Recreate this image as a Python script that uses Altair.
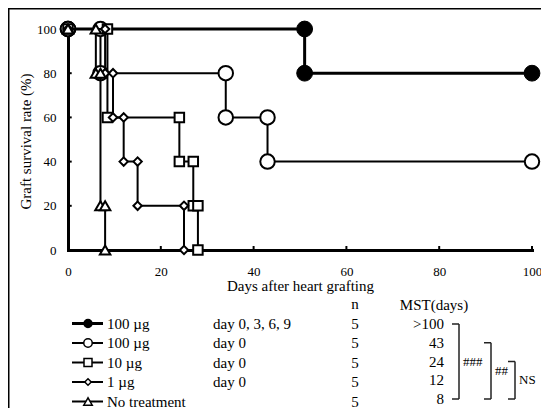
import altair as alt
import pandas as pd

# ---------------- data ----------------
series_names = ["100 µg day 0, 3, 6, 9", "100 µg day 0", "10 µg day 0", "1 µg day 0", "No treatment"]
legend_doses = ["100 µg", "100 µg", "10 µg", "1 µg", "No treatment"]
legend_schedule = ["day 0, 3, 6, 9", "day 0", "day 0", "day 0", ""]
n_animals = ["5", "5", "5", "5", "5"]
mst_labels = [">100", "43", "24", "12", "8"]

days_s1 = [0, 51, 51, 100]
surv_s1 = [100, 100, 80, 80]
days_s2 = [0, 7, 7, 34, 34, 43, 43, 100]
surv_s2 = [100, 100, 80, 80, 60, 60, 40, 40]
days_s3 = [0, 8.5, 8.5, 24, 24, 27, 27, 28, 28]
surv_s3 = [100, 100, 60, 60, 40, 40, 20, 20, 0]
days_s4 = [0, 8, 8, 9.7, 9.7, 12, 12, 15, 15, 25, 25]
surv_s4 = [100, 100, 80, 80, 60, 60, 40, 40, 20, 20, 0]
days_s5 = [0, 6, 6, 7, 7, 8, 8]
surv_s5 = [100, 100, 80, 80, 20, 20, 0]

series_days = [days_s1, days_s2, days_s3, days_s4, days_s5]
series_surv = [surv_s1, surv_s2, surv_s3, surv_s4, surv_s5]

comp_top = [0, 1, 2]
comp_bottom = [4, 4, 4]
comp_label = ["###", "##", "NS"]

x_tick_values = [0, 20, 40, 60, 80, 100]
y_tick_values = [0, 20, 40, 60, 80, 100]
x_minor = [20, 40, 60, 80, 100]
y_minor = [20, 40, 60, 80]

# ---------------- styles / layout ----------------
shapes = ["circle", "circle", "square", "diamond", "triangle-up"]
fills = ["black", "white", "white", "white", "white"]
sizes_main = [250, 210, 90, 70, 110]
sizes_leg = [64, 72, 64, 42, 72]
marker_sw = [1, 2, 2, 2, 2]
line_w = [3, 2, 2, 2, 2]
bracket_x = [391, 423, 447]

W, H = 464, 221
FONT = "Liberation Serif"

x_scale = alt.Scale(domain=[0, 100], nice=False, zero=False)
y_scale = alt.Scale(domain=[0, 100], nice=False, zero=False)

axis_common = dict(
    ticks=False, grid=False, domainWidth=3, domainColor="black", domainCap="square",
    labelFont=FONT, labelFontSize=13, labelColor="black", labelFlush=False,
    titleFont=FONT, titleFontSize=15, titleFontWeight="normal", titleColor="black",
)
x_axis = alt.Axis(values=x_tick_values, labelPadding=15, title="Days after heart grafting",
                  titleY=35, titleBaseline="middle", **axis_common)
y_axis = alt.Axis(values=y_tick_values, labelPadding=12, title="Graft survival rate (%)",
                  titleX=-43, titleY=112, titleAngle=270, titleBaseline="middle",
                  titleAlign="center", **axis_common)

X = alt.X("day:Q", scale=x_scale, axis=x_axis)
Y = alt.Y("surv:Q", scale=y_scale, axis=y_axis)

# ---------------- main plot ----------------
main_layers = []

frame = alt.Chart(pd.DataFrame({"a": [0]})).mark_rect(
    fillOpacity=0, stroke="black", strokeWidth=1.5
).encode(x=alt.value(-59.25), x2=alt.value(700), y=alt.value(-20.25), y2=alt.value(600))
main_layers.append(frame)

xt = pd.DataFrame({"day": x_minor, "surv": [0] * len(x_minor), "surv2": [1.8] * len(x_minor)})
main_layers.append(alt.Chart(xt).mark_rule(color="black", strokeWidth=2).encode(x=X, y=Y, y2="surv2:Q"))
yt = pd.DataFrame({"surv": y_minor, "day": [0] * len(y_minor), "day2": [0.8] * len(y_minor)})
main_layers.append(alt.Chart(yt).mark_rule(color="black", strokeWidth=2).encode(x=X, x2="day2:Q", y=Y))

for i in range(len(series_names)):
    df = pd.DataFrame({"day": series_days[i], "surv": series_surv[i],
                       "idx": list(range(len(series_days[i])))})
    main_layers.append(alt.Chart(df).mark_line(color="black", strokeWidth=line_w[i]).encode(
        x=X, y=Y, order=alt.Order("idx:Q")))
    main_layers.append(alt.Chart(df).mark_point(
        shape=shapes[i], filled=True, fill=fills[i], stroke="black",
        strokeWidth=marker_sw[i], size=sizes_main[i], opacity=1
    ).encode(x=X, y=Y))

main = alt.layer(*main_layers)

# ---------------- left legend block ----------------
y_leg = alt.Y("row:Q", scale=alt.Scale(domain=[0, 4], range=[294.5, 372.5]), axis=None)
leg_df = pd.DataFrame({"row": list(range(5)), "dose": legend_doses,
                       "sched": legend_schedule, "n": n_animals})
left_layers = []
for i in range(len(series_names)):
    r = pd.DataFrame({"row": [i]})
    left_layers.append(alt.Chart(r).mark_rule(color="black", strokeWidth=line_w[i]).encode(
        x=alt.value(4), x2=alt.value(35), y=y_leg))
    left_layers.append(alt.Chart(r).mark_point(
        shape=shapes[i], filled=True, fill=fills[i], stroke="black",
        strokeWidth=1.5, size=sizes_leg[i], opacity=1
    ).encode(x=alt.value(20), y=y_leg))

txt = dict(font=FONT, fontSize=15, color="black", baseline="middle")
left_layers.append(alt.Chart(leg_df).mark_text(align="left", **txt).encode(
    x=alt.value(39), y=y_leg, text="dose:N"))
left_layers.append(alt.Chart(leg_df).mark_text(align="left", **txt).encode(
    x=alt.value(145), y=y_leg, text="sched:N"))
left_layers.append(alt.Chart(leg_df).mark_text(align="center", **txt).encode(
    x=alt.value(287), y=y_leg, text="n:N"))
left_layers.append(alt.Chart(pd.DataFrame({"row": [-1], "t": ["n"]})).mark_text(
    align="center", **txt).encode(x=alt.value(287), y=y_leg, text="t:N"))
left = alt.layer(*left_layers)

# ---------------- right block: MST + significance brackets ----------------
rs = alt.Scale(domain=[0, 4], range=[295, 370])
mst_df = pd.DataFrame({"row": list(range(5)), "mst": mst_labels})
right_layers = [
    alt.Chart(mst_df).mark_text(align="right", **txt).encode(
        x=alt.value(376), y=alt.Y("row:Q", scale=rs, axis=None), text="mst:N"),
    alt.Chart(pd.DataFrame({"row": [-1], "t": ["MST(days)"]})).mark_text(align="center", **txt).encode(
        x=alt.value(366), y=alt.Y("row:Q", scale=rs, axis=None), text="t:N"),
]
for i in range(len(comp_label)):
    b = pd.DataFrame({"top": [comp_top[i]], "bottom": [comp_bottom[i]],
                      "mid": [(comp_top[i] + comp_bottom[i]) / 2], "lab": [comp_label[i]]})
    vx = bracket_x[i]
    right_layers.append(alt.Chart(b).mark_rule(color="#222", strokeWidth=1.5).encode(
        x=alt.value(vx), y=alt.Y("top:Q", scale=rs, axis=None), y2="bottom:Q"))
    right_layers.append(alt.Chart(b).mark_rule(color="#222", strokeWidth=1.5).encode(
        x=alt.value(vx - 7), x2=alt.value(vx), y=alt.Y("top:Q", scale=rs, axis=None)))
    right_layers.append(alt.Chart(b).mark_rule(color="#222", strokeWidth=1.5).encode(
        x=alt.value(vx - 7), x2=alt.value(vx), y=alt.Y("bottom:Q", scale=rs, axis=None)))
    right_layers.append(alt.Chart(b).mark_text(align="left", font=FONT, fontSize=13,
                                               color="black", baseline="middle").encode(
        x=alt.value(vx + 4), y=alt.Y("mid:Q", scale=rs, axis=None), text="lab:N"))
right = alt.layer(*right_layers)

chart = alt.layer(main, left, right).resolve_scale(y="independent").properties(
    width=W, height=H,
    padding={"left": 60, "top": 21, "right": 9, "bottom": 158},
    autosize=alt.AutoSizeParams(type="none"),
).configure_view(strokeWidth=0)

chart.save("out.html", embed_options={"renderer": "svg", "actions": False})
